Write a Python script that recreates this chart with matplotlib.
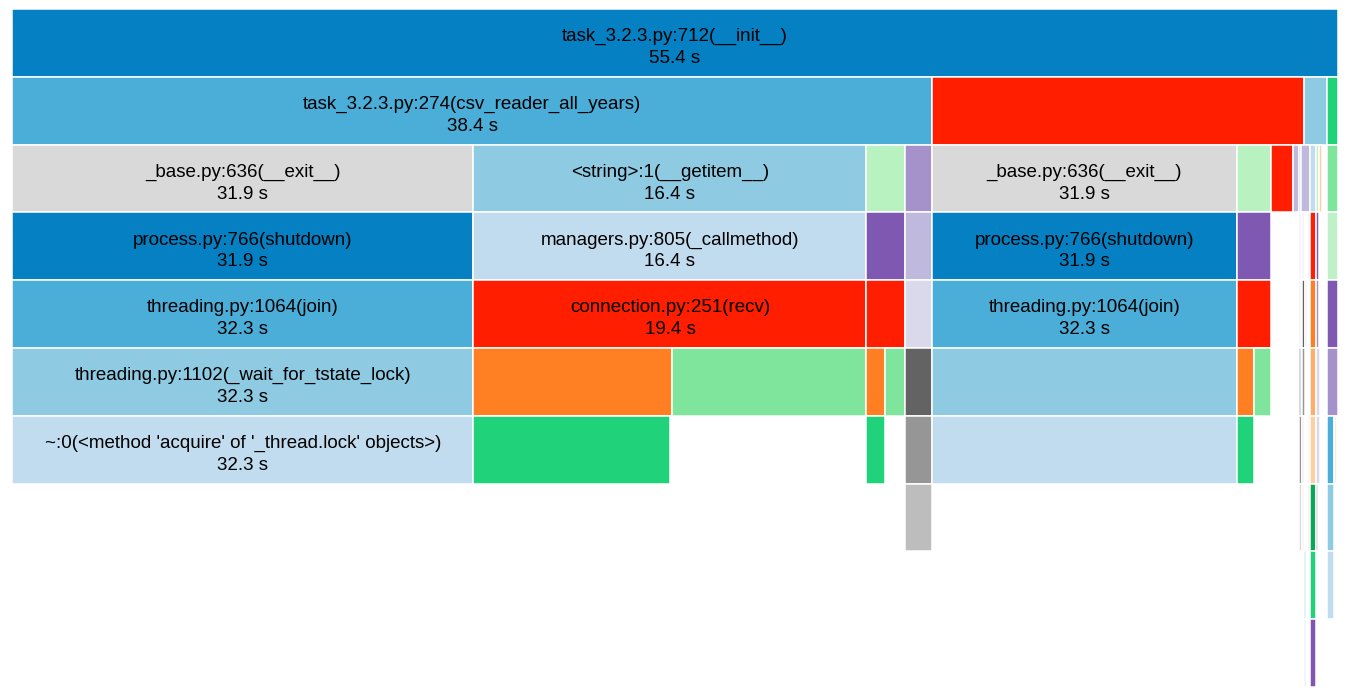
import matplotlib
matplotlib.use("Agg")
import matplotlib.pyplot as plt

# Icicle (flame) chart of a profile: depth level, start time (s), duration (s)
levels = [
    0,
    1, 1, 1, 1,
    2, 2, 2, 2, 2, 2, 2, 2, 2, 2, 2, 2, 2, 2,
    3, 3, 3, 3, 3, 3, 3, 3, 3, 3, 3, 3,
    4, 4, 4, 4, 4, 4, 4, 4, 4, 4, 4, 4,
    5, 5, 5, 5, 5, 5, 5, 5, 5, 5, 5, 5, 5, 5,
    6, 6, 6, 6, 6, 6, 6, 6, 6, 6, 6, 6, 6,
    7, 7, 7, 7, 7, 7, 7,
    8, 8, 8,
    9, 9,
]
starts = [
    0.00,
    0.00, 38.44, 53.96, 54.92,
    0.00, 19.28, 35.70, 37.33, 38.44, 51.16, 52.58, 53.54, 53.79, 53.87, 54.25, 54.50, 54.62, 54.92,
    0.00, 19.28, 35.70, 37.33, 38.44, 51.16, 53.79, 53.91, 54.13, 54.25, 54.50, 54.92,
    0.00, 19.28, 35.70, 37.33, 38.44, 51.16, 53.79, 53.91, 54.02, 54.25, 54.50, 54.92,
    0.00, 19.28, 27.58, 35.70, 36.49, 37.33, 38.44, 51.16, 51.87, 53.79, 53.91, 54.25, 54.50, 54.92,
    0.00, 19.28, 35.70, 37.33, 38.44, 51.16, 53.79, 53.91, 54.15, 54.25, 54.50, 54.92, 55.25,
    37.33, 53.79, 53.91, 54.15, 54.25, 54.50, 54.92,
    53.96, 54.25, 54.92,
    53.96, 54.25,
]
durations = [
    55.40,
    38.44, 15.52, 0.96, 0.46,
    19.28, 16.42, 1.63, 1.09, 12.72, 1.42, 0.96, 0.25, 0.08, 0.38, 0.25, 0.12, 0.13, 0.46,
    19.28, 16.42, 1.63, 1.09, 12.72, 1.42, 0.08, 0.07, 0.10, 0.21, 0.12, 0.46,
    19.28, 16.42, 1.63, 1.09, 12.72, 1.42, 0.08, 0.11, 0.08, 0.21, 0.12, 0.46,
    19.28, 8.30, 8.12, 0.79, 0.84, 1.09, 12.72, 0.71, 0.71, 0.08, 0.11, 0.25, 0.15, 0.46,
    19.28, 8.23, 0.79, 1.09, 12.72, 0.71, 0.10, 0.07, 0.08, 0.25, 0.15, 0.33, 0.11,
    1.09, 0.10, 0.07, 0.08, 0.25, 0.08, 0.33,
    0.10, 0.25, 0.33,
    0.10, 0.25,
]
colors = [
    "#0580c2",
    "#4aaed8", "#ff1e00", "#8ecae2", "#20d37a",
    "#d9d9d9", "#8ecae2", "#b8f2c1", "#a592ca", "#d9d9d9", "#b8f2c1", "#ff1e00", "#bfb9dd", "#a592ca", "#bfb9dd", "#c2dcef", "#b8f2c1", "#fdd0a2", "#80e59c",
    "#0580c2", "#c2dcef", "#7f59b1", "#bfb9dd", "#0580c2", "#7f59b1", "#dad8eb", "#dad8eb", "#dad8eb", "#ff1e00", "#7f59b1", "#c0f0c8",
    "#4aaed8", "#ff1e00", "#ff1e00", "#dad8eb", "#4aaed8", "#ff1e00", "#dad8eb", "#636363", "#dad8eb", "#ff7f22", "#a592ca", "#7f59b1",
    "#8ecae2", "#ff7f22", "#80e59c", "#ff7f22", "#80e59c", "#636363", "#8ecae2", "#ff7f22", "#80e59c", "#636363", "#969696", "#fdae6b", "#dad8eb", "#a592ca",
    "#c2dcef", "#20d37a", "#20d37a", "#969696", "#c2dcef", "#20d37a", "#969696", "#dad8eb", "#fdd0a2", "#fdd0a2", "#dad8eb", "#4aaed8", "#eef0f8",
    "#bdbdbd", "#d9d9d9", "#e8e8e8", "#fdd0a2", "#0aa65a", "#969696", "#8ecae2",
    "#8ecae2", "#20d37a", "#c2dcef",
    "#c2dcef", "#7f59b1",
]
# Labelled frames: index into the lists above, function name, reported time
label_index = [0, 1, 5, 6, 9, 19, 20, 23, 31, 32, 35, 43, 57]
label_names = [
    "task_3.2.3.py:712(__init__)",
    "task_3.2.3.py:274(csv_reader_all_years)",
    "_base.py:636(__exit__)",
    "<string>:1(__getitem__)",
    "_base.py:636(__exit__)",
    "process.py:766(shutdown)",
    "managers.py:805(_callmethod)",
    "process.py:766(shutdown)",
    "threading.py:1064(join)",
    "connection.py:251(recv)",
    "threading.py:1064(join)",
    "threading.py:1102(_wait_for_tstate_lock)",
    "~:0(<method 'acquire' of '_thread.lock' objects>)",
]
label_times = [55.4, 38.4, 31.9, 16.4, 31.9, 31.9, 16.4, 31.9, 32.3, 19.4, 32.3, 32.3, 32.3]

total = 55.4
n_levels = 10

W, H = 1350, 697
fig = plt.figure(figsize=(W / 100, H / 100), dpi=100)
ax = fig.add_axes([12 / W, (H - 687) / H, 1326 / W, 678 / H])
ax.barh(levels, durations, left=starts, height=1.0, align="edge",
        color=colors, edgecolor="white", linewidth=1.1)
ax.set_xlim(0, total)
ax.set_ylim(n_levels, 0)
ax.axis("off")

font = ["Liberation Sans", "DejaVu Sans"]
for idx, name, t in zip(label_index, label_names, label_times):
    cx = starts[idx] + durations[idx] / 2
    cy = levels[idx] + 0.5
    ax.text(cx, cy - 0.09, name, ha="center", va="center", fontsize=13.5,
            family=font, color="black")
    ax.text(cx, cy + 0.23, f"{t} s", ha="center", va="center", fontsize=13.5,
            family=font, color="black")

fig.savefig("out.png", dpi=100)
